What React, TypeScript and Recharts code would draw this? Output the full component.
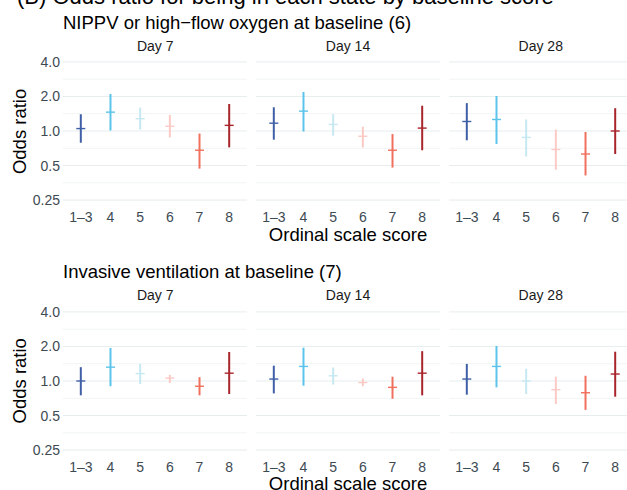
import { ScatterChart, Scatter, XAxis, YAxis, ErrorBar, ReferenceLine } from "recharts";

// ordinal score categories and their colours
const categories = ["1–3", "4", "5", "6", "7", "8"];
const colours = ["#3f5fa6", "#5cc4ea", "#c6e8f1", "#fccac6", "#f0705d", "#a8252b"];

const days = ["Day 7", "Day 14", "Day 28"];
const yTicks = [0.25, 0.5, 1, 2, 4];
const yMinor = [0.3536, 0.7071, 1.4142, 2.8284];

// NIPPV or high-flow oxygen at baseline (6)
const nippvDay7Est = [1.05, 1.46, 1.28, 1.1, 0.68, 1.12];
const nippvDay7Lo = [0.79, 1.01, 1.03, 0.88, 0.47, 0.72];
const nippvDay7Hi = [1.4, 2.1, 1.6, 1.38, 0.95, 1.72];

const nippvDay14Est = [1.17, 1.49, 1.14, 0.9, 0.68, 1.06];
const nippvDay14Lo = [0.84, 0.99, 0.91, 0.72, 0.48, 0.68];
const nippvDay14Hi = [1.61, 2.19, 1.4, 1.09, 0.94, 1.66];

const nippvDay28Est = [1.21, 1.26, 0.88, 0.69, 0.63, 1.0];
const nippvDay28Lo = [0.83, 0.77, 0.6, 0.46, 0.41, 0.63];
const nippvDay28Hi = [1.75, 2.02, 1.26, 1.03, 0.98, 1.58];

// Invasive ventilation at baseline (7)
const invDay7Est = [1.0, 1.32, 1.16, 1.06, 0.9, 1.17];
const invDay7Lo = [0.75, 0.9, 0.94, 0.96, 0.75, 0.77];
const invDay7Hi = [1.32, 1.94, 1.41, 1.13, 1.08, 1.79];

const invDay14Est = [1.04, 1.34, 1.11, 0.97, 0.88, 1.17];
const invDay14Lo = [0.78, 0.91, 0.93, 0.9, 0.7, 0.75];
const invDay14Hi = [1.36, 1.95, 1.31, 1.05, 1.09, 1.82];

const invDay28Est = [1.04, 1.34, 1.0, 0.84, 0.79, 1.15];
const invDay28Lo = [0.76, 0.88, 0.77, 0.63, 0.56, 0.73];
const invDay28Hi = [1.41, 2.02, 1.28, 1.09, 1.11, 1.8];

const rows = [
  {
    title: "NIPPV or high\u2212flow oxygen at baseline (6)",
    panels: [
      [nippvDay7Est, nippvDay7Lo, nippvDay7Hi],
      [nippvDay14Est, nippvDay14Lo, nippvDay14Hi],
      [nippvDay28Est, nippvDay28Lo, nippvDay28Hi],
    ],
  },
  {
    title: "Invasive ventilation at baseline (7)",
    panels: [
      [invDay7Est, invDay7Lo, invDay7Hi],
      [invDay14Est, invDay14Lo, invDay14Hi],
      [invDay28Est, invDay28Lo, invDay28Hi],
    ],
  },
];

const PLOT_W = 184;
const PLOT_H = 152;
const AXIS_H = 30;
const Y_AXIS_W = 63;
const Y_MIN = Math.pow(2, -2.2);
const Y_MAX = Math.pow(2, 2.2);
const colLefts = [63.25, 256, 448.75];
const rowTops = [55.4, 304.8];
const TICK_COLOUR = "#3d4a52";
const FONT = "'Liberation Sans', Arial, sans-serif";

function Facet({ est, lo, hi, showY }: { est: number[]; lo: number[]; hi: number[]; showY: boolean }) {
  return (
    <ScatterChart
      width={showY ? PLOT_W + Y_AXIS_W : PLOT_W}
      height={PLOT_H + AXIS_H}
      margin={{ top: 0, right: 0, bottom: 0, left: 0 }}
    >
      <XAxis
        type="number"
        dataKey="x"
        domain={[0.4, 6.6]}
        ticks={[1, 2, 3, 4, 5, 6]}
        interval={0}
        allowDataOverflow
        tickFormatter={(v) => categories[v - 1]}
        axisLine={false}
        tickLine={false}
        tickSize={0}
        tickMargin={5}
        height={AXIS_H}
        tick={{ fill: TICK_COLOUR, fontSize: 14 }}
      />
      <YAxis
        type="number"
        dataKey="y"
        scale="log"
        domain={[Y_MIN, Y_MAX]}
        ticks={yTicks}
        interval={0}
        allowDataOverflow
        hide={!showY}
        width={Y_AXIS_W}
        tickFormatter={(v) => (v === 0.25 ? "0.25" : v.toFixed(1))}
        axisLine={false}
        tickLine={false}
        tickSize={0}
        tickMargin={3}
        tick={{ fill: TICK_COLOUR, fontSize: 14 }}
      />
      {yMinor.map((v) => (
        <ReferenceLine key={`mi-${v}`} y={v} stroke="#f2f5f5" strokeWidth={1} />
      ))}
      {yTicks.map((v) => (
        <ReferenceLine key={`ma-${v}`} y={v} stroke="#e7eded" strokeWidth={1} />
      ))}
      {categories.map((c, i) => (
        <Scatter
          key={c}
          data={[{ x: i + 1, y: est[i], err: [est[i] - lo[i], hi[i] - est[i]] }]}
          fill={colours[i]}
          isAnimationActive={false}
          shape={(p: any) => (
            <line
              x1={p.cx - 4.5}
              x2={p.cx + 4.5}
              y1={p.cy}
              y2={p.cy}
              stroke={colours[i]}
              strokeWidth={1.4}
            />
          )}
        >
          <ErrorBar dataKey="err" direction="y" width={0} stroke={colours[i]} strokeWidth={2} />
        </Scatter>
      ))}
    </ScatterChart>
  );
}

export default function App() {
  return (
    <div style={{ position: "relative", width: 627, height: 490, overflow: "hidden", fontFamily: FONT, background: "#fff" }}>
      <style>{"body{margin:0}"}</style>
      {rows.map((row, r) =>
        row.panels.map(([est, lo, hi], c) => (
          <div
            key={`${r}-${c}`}
            style={{
              position: "absolute",
              top: rowTops[r],
              left: c === 0 ? colLefts[c] - Y_AXIS_W : colLefts[c],
            }}
          >
            <Facet est={est} lo={lo} hi={hi} showY={c === 0} />
          </div>
        ))
      )}
      <svg
        width={627}
        height={490}
        style={{ position: "absolute", top: 0, left: 0, pointerEvents: "none", fontFamily: FONT }}
      >
        <text x={17} y={4} fontSize={22} fill="#000">
          (B) Odds ratio for being in each state by baseline score
        </text>
        {rows.map((row, r) => {
          const off = rowTops[r] - rowTops[0];
          return (
            <g key={row.title}>
              <text x={63} y={28.5 + off} fontSize={18.5} fill="#000">
                {row.title}
              </text>
              {days.map((d, c) => (
                <text key={d} x={colLefts[c] + PLOT_W / 2} y={51 + off} fontSize={14} textAnchor="middle" fill="#1a1a1a">
                  {d}
                </text>
              ))}
              <text
                transform={`translate(26, ${rowTops[r] + 76}) rotate(-90)`}
                fontSize={18.5}
                textAnchor="middle"
                fill="#000"
              >
                Odds ratio
              </text>
              <text x={colLefts[1] + PLOT_W / 2} y={241 + off} fontSize={18.5} textAnchor="middle" fill="#000">
                Ordinal scale score
              </text>
            </g>
          );
        })}
      </svg>
    </div>
  );
}
